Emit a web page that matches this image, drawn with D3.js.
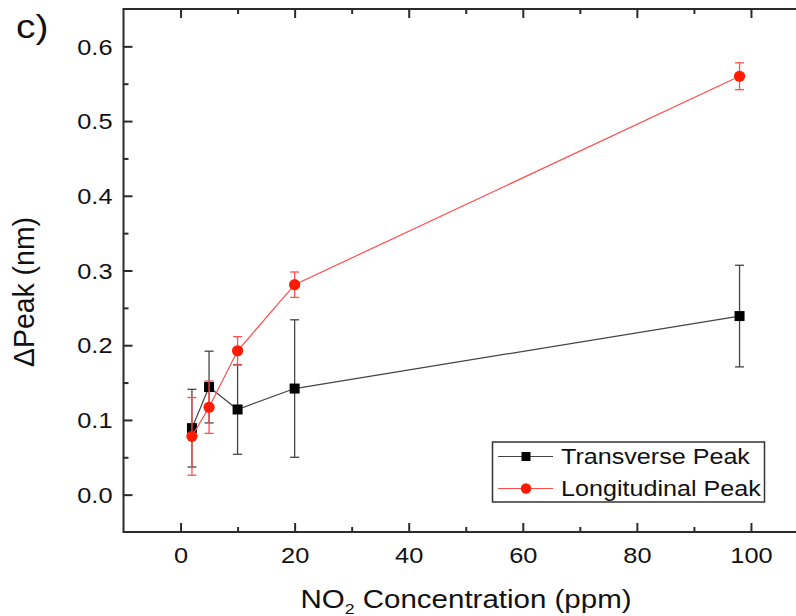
<!DOCTYPE html>
<html><head><meta charset="utf-8">
<script src="https://cdn.jsdelivr.net/npm/d3@7/dist/d3.min.js"></script>
<style>
html,body{margin:0;padding:0;background:#fff;}
svg{display:block;}
text{font-family:"Liberation Sans",Arial,sans-serif;fill:#111;}
</style></head><body>
<svg id="chart" width="796" height="616"></svg>
<script>
// ---- data ----
const concentration = [2, 5, 10, 20, 98];
const transverse    = [0.089, 0.144, 0.114, 0.142, 0.239];
const transverseErr = [0.052, 0.048, 0.060, 0.092, 0.068];
const longitudinal    = [0.078, 0.117, 0.1925, 0.281, 0.560];
const longitudinalErr = [0.052, 0.035, 0.019, 0.017, 0.018];
const seriesNames = ["Transverse Peak", "Longitudinal Peak"];
const xTicks = [0, 20, 40, 60, 80, 100];
const xMinorTicks = [10, 30, 50, 70, 90];
const yTicks = [0.0, 0.1, 0.2, 0.3, 0.4, 0.5, 0.6];
const yMinorTicks = [0.05, 0.15, 0.25, 0.35, 0.45, 0.55];
const xTitle = "NO";
const yTitle = "ΔPeak (nm)";
const panelLabel = "c)";

(function(){
// ---- layout ----
const SX = 1.18; // horizontal glyph stretch of the original
const svg = d3.select("#chart");
const pL = 123.5, pR = 808, pT = 9, pB = 532;
const x = d3.scaleLinear().domain([-10, 110]).range([pL, pR]);
const y = d3.scaleLinear().domain([-0.05, 0.65]).range([pB, pT]);
const axisColor = "#2b2b2b";

// frame
svg.append("rect").attr("x", pL).attr("y", pT)
  .attr("width", pR - pL).attr("height", pB - pT)
  .attr("fill", "none").attr("stroke", axisColor).attr("stroke-width", 2);

function styleAxis(g){
  g.select(".domain").remove();
  g.selectAll("line").attr("stroke", axisColor).attr("stroke-width", 2);
}
// bottom axis
const gx = svg.append("g").attr("transform", `translate(0,${pB})`)
  .call(d3.axisBottom(x).tickValues(xTicks).tickSize(-9).tickFormat(d3.format("d")));
styleAxis(gx);
gx.selectAll("text").attr("y", 31).attr("dy", 0).attr("font-size", 21.5)
  .attr("transform", `scale(${SX},1)`).attr("fill", "#111");
const gxm = svg.append("g").attr("transform", `translate(0,${pB})`)
  .call(d3.axisBottom(x).tickValues(xMinorTicks).tickSize(-5).tickFormat(""));
styleAxis(gxm);
// top axis ticks
const gt = svg.append("g").attr("transform", `translate(0,${pT})`)
  .call(d3.axisTop(x).tickValues(xTicks).tickSize(-9).tickFormat(""));
styleAxis(gt);
const gtm = svg.append("g").attr("transform", `translate(0,${pT})`)
  .call(d3.axisTop(x).tickValues(xMinorTicks).tickSize(-5).tickFormat(""));
styleAxis(gtm);
// left axis
const gy = svg.append("g").attr("transform", `translate(${pL},0)`)
  .call(d3.axisLeft(y).tickValues(yTicks).tickSize(-9).tickFormat(d3.format(".1f")));
styleAxis(gy);
gy.selectAll("text").attr("x", -11 / SX).attr("dy", "0.36em").attr("font-size", 21.5)
  .attr("transform", `scale(${SX},1)`).attr("fill", "#111");
const gym = svg.append("g").attr("transform", `translate(${pL},0)`)
  .call(d3.axisLeft(y).tickValues(yMinorTicks).tickSize(-5).tickFormat(""));
styleAxis(gym);

// titles
const xt = svg.append("text").attr("text-anchor", "middle").attr("font-size", 25)
  .attr("transform", `translate(466,608) scale(${SX},1)`);
xt.append("tspan").text(xTitle);
xt.append("tspan").attr("font-size", 15).attr("dy", 6).text("2");
xt.append("tspan").attr("dy", -6).text(" Concentration (ppm)");

svg.append("text").attr("text-anchor", "middle").attr("font-size", 25)
  .attr("transform", `translate(34,292) rotate(-90) scale(1,${SX})`)
  .attr("textLength", 150).attr("lengthAdjust", "spacingAndGlyphs")
  .text(yTitle);

svg.append("text").attr("font-size", 33)
  .attr("transform", `translate(16,38) scale(${SX},1)`).text(panelLabel);

// ---- series ----
const series = [
  {name: seriesNames[0], vals: transverse, err: transverseErr, line: "#444", errColor: "#444", fill: "#000", shape: "square"},
  {name: seriesNames[1], vals: longitudinal, err: longitudinalErr, line: "#ff4d4d", errColor: "#ff5050", fill: "#ff1a00", shape: "circle"}
];
const plot = svg.append("g");
const lineGen = d3.line().x(d => x(d.c)).y(d => y(d.v));
series.forEach(s => {
  const pts = concentration.map((c, i) => ({c, v: s.vals[i], e: s.err[i]}));
  const g = plot.append("g");
  const eb = g.selectAll(".eb").data(pts).join("g");
  eb.append("line").attr("x1", d => x(d.c)).attr("x2", d => x(d.c))
    .attr("y1", d => y(d.v + d.e)).attr("y2", d => y(d.v - d.e))
    .attr("stroke", s.errColor).attr("stroke-width", 1.3);
  [1, -1].forEach(sg => {
    eb.append("line").attr("x1", d => x(d.c) - 4.5).attr("x2", d => x(d.c) + 4.5)
      .attr("y1", d => y(d.v + sg * d.e)).attr("y2", d => y(d.v + sg * d.e))
      .attr("stroke", s.errColor).attr("stroke-width", 1.3);
  });
  g.append("path").datum(pts).attr("d", lineGen).attr("fill", "none")
    .attr("stroke", s.line).attr("stroke-width", 1.2);
  if (s.shape === "square") {
    g.selectAll("rect").data(pts).join("rect")
      .attr("x", d => x(d.c) - 5).attr("y", d => y(d.v) - 5)
      .attr("width", 10).attr("height", 10).attr("fill", s.fill);
  } else {
    g.selectAll("circle").data(pts).join("circle")
      .attr("cx", d => x(d.c)).attr("cy", d => y(d.v)).attr("r", 5.6).attr("fill", s.fill);
  }
});

// ---- legend ----
const lg = svg.append("g");
lg.append("rect").attr("x", 492.5).attr("y", 442).attr("width", 272).attr("height", 60)
  .attr("fill", "#fff").attr("stroke", "#333").attr("stroke-width", 1.5);
series.forEach((s, i) => {
  const yy = 456.5 + i * 32;
  lg.append("line").attr("x1", 498).attr("x2", 553).attr("y1", yy).attr("y2", yy)
    .attr("stroke", s.line).attr("stroke-width", 1.2);
  if (s.shape === "square") {
    lg.append("rect").attr("x", 526 - 4.5).attr("y", yy - 4.5).attr("width", 9).attr("height", 9).attr("fill", s.fill);
  } else {
    lg.append("circle").attr("cx", 526).attr("cy", yy).attr("r", 5.2).attr("fill", s.fill);
  }
  lg.append("text").attr("font-size", 21.3).attr("dy", "0.36em")
    .attr("transform", `translate(561,${yy}) scale(${SX},1)`).text(s.name);
});
})();
</script>
</body></html>
